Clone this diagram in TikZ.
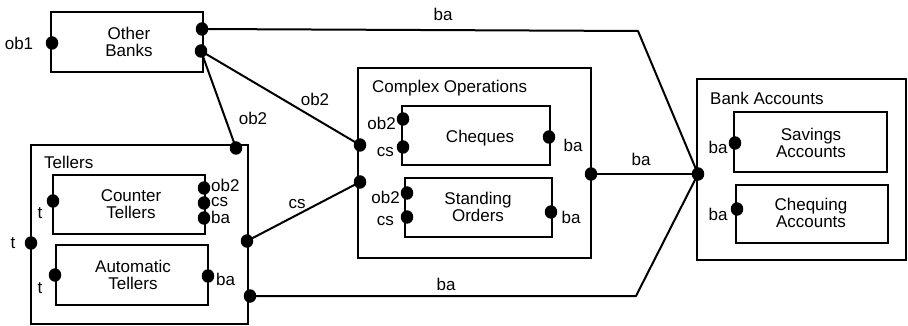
\documentclass[tikz,border=0pt]{standalone}
\usepackage{fontspec}
\setmainfont{Liberation Sans}
\usetikzlibrary{shapes.geometric}
\begin{document}
\begin{tikzpicture}[x=1pt,y=-1pt,
  box/.style={draw,line width=2pt,inner sep=0pt},
  port/.style={ellipse,fill=black,inner sep=0pt,minimum width=12.5pt,minimum height=13.5pt},
  lbl/.style={inner sep=0pt,font=\fontsize{17}{18}\selectfont},
  tight/.style={text height=9pt,text depth=1pt},
  txt/.style={inner sep=0pt,align=center,font=\fontsize{17}{17.5}\selectfont},
  wire/.style={line width=2pt,line join=round}]
\useasboundingbox (0,0) rectangle (908,326);

% outer components
\node[box,minimum width=152pt,minimum height=60pt] (banks) at (127,42) {};
\node[txt] (banksT) at (129,42) {Other\\Banks};

\node[box,minimum width=217pt,minimum height=179pt] (tellers) at (139.5,234.5) {};
\node[lbl,anchor=west] (tellersT) at (44,162) {Tellers};

\node[box,minimum width=233pt,minimum height=190pt] (complex) at (474.5,163) {};
\node[lbl,anchor=west] (complexT) at (372,88) {Complex Operations};

\node[box,minimum width=209pt,minimum height=181pt] (accounts) at (801.5,169.5) {};
\node[lbl,anchor=west] (accountsT) at (710,98) {Bank Accounts};

% inner components
\node[box,minimum width=152pt,minimum height=59pt] (counter) at (129,204.5) {};
\node[txt] (counterT) at (131,204) {Counter\\Tellers};
\node[box,minimum width=152pt,minimum height=60pt] (auto) at (132,275) {};
\node[txt] (autoT) at (133,275) {Automatic\\Tellers};

\node[box,minimum width=148pt,minimum height=59pt] (cheques) at (476,135.5) {};
\node[txt] (chequesT) at (480,138) {Cheques};
\node[box,minimum width=147pt,minimum height=59pt] (standing) at (478.5,207.5) {};
\node[txt] (standingT) at (478,207) {Standing\\Orders};

\node[box,minimum width=153pt,minimum height=60pt] (savings) at (810.5,142) {};
\node[txt] (savingsT) at (811,143) {Savings\\Accounts};
\node[box,minimum width=152pt,minimum height=58pt] (chequing) at (812,214) {};
\node[txt] (chequingT) at (811,213) {Chequing\\Accounts};

% ports
\node[port] (pOb1) at (52,43) {};
\node[port] (pBanksBa) at (202,29) {};
\node[port] (pBanksOb2) at (201,51) {};
\node[port] (pTellersOb2) at (236,148) {};
\node[port] (pTellersT) at (31,243) {};
\node[port] (pTellersCs) at (247,241) {};
\node[port] (pTellersBa) at (250,296) {};
\node[port] (pCounterT) at (53,201) {};
\node[port] (pCounterOb2) at (204,188) {};
\node[port] (pCounterCs) at (204,203) {};
\node[port] (pCounterBa) at (204,218) {};
\node[port] (pAutoT) at (55,275) {};
\node[port] (pAutoBa) at (208,276) {};
\node[port] (pComplexOb2) at (360,145) {};
\node[port] (pComplexCs) at (360,182) {};
\node[port] (pComplexBa) at (591,174) {};
\node[port] (pChequesOb2) at (403,119) {};
\node[port] (pChequesCs) at (403,147) {};
\node[port] (pChequesBa) at (549,137) {};
\node[port] (pStandingOb2) at (407,193) {};
\node[port] (pStandingCs) at (407,217) {};
\node[port] (pStandingBa) at (551,212) {};
\node[port] (pAccountsBa) at (698,174) {};
\node[port] (pSavingsBa) at (735,143) {};
\node[port] (pChequingBa) at (737,209) {};

% port labels
\node[lbl] (lOb1) at (19,43) {ob1};
\node[lbl] (lTellersT) at (13,243) {t};
\node[lbl] (lCounterT) at (40,213) {t};
\node[lbl] (lAutoT) at (40,288) {t};
\node[lbl,tight,anchor=west] (lCounterOb2) at (211,187) {ob2};
\node[lbl,tight,anchor=west] (lCounterCs) at (211,203) {cs};
\node[lbl,tight,anchor=west] (lCounterBa) at (211,219) {ba};
\node[lbl,anchor=west] (lAutoBa) at (216,279) {ba};
\node[lbl,anchor=east] (lChequesOb2) at (396,123) {ob2};
\node[lbl,anchor=east] (lChequesCs) at (394,152) {cs};
\node[lbl,anchor=east] (lStandingOb2) at (400,197) {ob2};
\node[lbl,anchor=east] (lStandingCs) at (394,221) {cs};
\node[lbl] (lChequesBa) at (573,145) {ba};
\node[lbl] (lStandingBa) at (571,217) {ba};
\node[lbl] (lSavingsBa) at (718,147) {ba};
\node[lbl] (lChequingBa) at (718,214) {ba};

% connectors
\coordinate (topBend) at (638,31);
\coordinate (botBend) at (636,296);
\draw[wire] (pBanksBa.center) -- (topBend) -- (pAccountsBa.center);
\draw[wire] (pBanksOb2.center) -- (pTellersOb2.center);
\draw[wire] (pBanksOb2.center) -- (pComplexOb2.center);
\draw[wire] (pTellersCs.center) -- (pComplexCs.center);
\draw[wire] (pComplexBa.center) -- (pAccountsBa.center);
\draw[wire] (pTellersBa.center) -- (botBend) -- (pAccountsBa.center);

% connector labels
\node[lbl] (wTopBa) at (443,14) {ba};
\node[lbl] (wOb2a) at (253,118) {ob2};
\node[lbl] (wOb2b) at (315,99) {ob2};
\node[lbl] (wCs) at (297,204) {cs};
\node[lbl] (wMidBa) at (641,159) {ba};
\node[lbl] (wBotBa) at (446,284) {ba};
\end{tikzpicture}
\end{document}
